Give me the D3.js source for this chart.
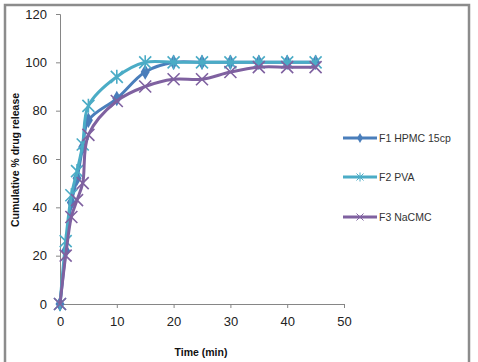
<!DOCTYPE html>
<html>
<head>
<script src="https://cdnjs.cloudflare.com/ajax/libs/d3/7.8.5/d3.min.js"></script>
<style>
  body { margin: 0; background: #fff; }
  text { font-family: "Liberation Sans", Arial, sans-serif; }
</style>
</head>
<body>
<script>
// dissolution data
const times = [0, 1, 2, 3, 4, 5, 10, 15, 20, 25, 30, 35, 40, 45];
const f1 = [0, 22, 42, 52, 65, 76, 85, 96, 100, 100, 100, 100, 100, 100];
const f2 = [0, 26, 45, 55, 66, 82, 94, 100, 100, 100, 100, 100, 100, 100];
const f3 = [0, 20, 36, 43, 50, 70, 84, 90, 93, 93, 96, 98, 98, 98];
const seriesNames = ["F1 HPMC 15cp", "F2 PVA", "F3 NaCMC"];
const xTicks = [0, 10, 20, 30, 40, 50];
const yTicks = [0, 20, 40, 60, 80, 100, 120];

const w = 478, h = 362;
const colors = ["#4a7ebb", "#4bacc6", "#7f61a0"];
const markers = ["diamond", "star", "x"];

const svg = d3.select("body").append("svg")
  .attr("width", w).attr("height", h);

// outer frame
svg.append("rect")
  .attr("x", 5).attr("y", 5)
  .attr("width", 464).attr("height", 370)
  .attr("fill", "none")
  .attr("stroke", "#8c8c8c")
  .attr("stroke-width", 2.5);

const xScale = d3.scaleLinear().domain([0, 50]).range([60, 344]);
const yScale = d3.scaleLinear().domain([0, 120]).range([304, 14]);

const xAxis = d3.axisBottom(xScale).tickValues(xTicks).tickSize(4).tickPadding(9);
const yAxis = d3.axisLeft(yScale).tickValues(yTicks).tickSize(4).tickPadding(9);

const gx = svg.append("g")
  .attr("transform", "translate(0," + yScale(0) + ")")
  .call(xAxis);
const gy = svg.append("g")
  .attr("transform", "translate(" + xScale(0) + ",0)")
  .call(yAxis);

[gx, gy].forEach(g => {
  g.select(".domain").attr("stroke", "#868686");
  g.selectAll(".tick line").attr("stroke", "#868686");
  g.selectAll(".tick text")
    .attr("fill", "#222")
    .style("font-size", "13px")
    .style("font-family", "'Liberation Sans', Arial, sans-serif");
});

// axis titles
svg.append("text")
  .attr("x", 201).attr("y", 356)
  .attr("text-anchor", "middle")
  .style("font-size", "10.5px").style("font-weight", "bold")
  .attr("fill", "#111")
  .text("Time (min)");

svg.append("text")
  .attr("transform", "translate(19,160) rotate(-90)")
  .attr("text-anchor", "middle")
  .style("font-size", "10.5px").style("font-weight", "bold")
  .attr("fill", "#111")
  .text("Cumulative % drug release");

const allSeries = [f1, f2, f3];

const line = d3.line()
  .x(d => xScale(d[0]))
  .y(d => yScale(d[1]))
  .curve(d3.curveCatmullRom.alpha(0.5));

function drawMarker(g, type, color, x, y) {
  if (type === "diamond") {
    g.append("path")
      .attr("d", d3.symbol(d3.symbolDiamond, 70)())
      .attr("transform", "translate(" + x + "," + y + ")")
      .attr("fill", color);
  } else if (type === "star") {
    const r = 6;
    const p = "M" + (x - r) + "," + (y - r) + "L" + (x + r) + "," + (y + r) +
      "M" + (x - r) + "," + (y + r) + "L" + (x + r) + "," + (y - r) +
      "M" + x + "," + (y - r - 1) + "L" + x + "," + (y + r + 1);
    g.append("path").attr("d", p).attr("stroke", color).attr("stroke-width", 1.6).attr("fill", "none");
  } else {
    const r = 6;
    const p = "M" + (x - r) + "," + (y - r) + "L" + (x + r) + "," + (y + r) +
      "M" + (x - r) + "," + (y + r) + "L" + (x + r) + "," + (y - r);
    g.append("path").attr("d", p).attr("stroke", color).attr("stroke-width", 1.6).attr("fill", "none");
  }
}

allSeries.forEach((vals, i) => {
  const pts = times.map((t, j) => [t, vals[j]]);
  const g = svg.append("g");
  g.append("path")
    .attr("d", line(pts))
    .attr("fill", "none")
    .attr("stroke", colors[i])
    .attr("stroke-width", 3);
  pts.forEach(p => drawMarker(g, markers[i], colors[i], xScale(p[0]), yScale(p[1])));
});

// legend
const legY = [138, 177, 217];
seriesNames.forEach((name, i) => {
  const g = svg.append("g");
  g.append("line")
    .attr("x1", 343).attr("x2", 377)
    .attr("y1", legY[i]).attr("y2", legY[i])
    .attr("stroke", colors[i]).attr("stroke-width", 3);
  const mg = g.append("g");
  if (markers[i] === "diamond") {
    mg.append("path")
      .attr("d", d3.symbol(d3.symbolDiamond, 30)())
      .attr("transform", "translate(360," + legY[i] + ")")
      .attr("fill", colors[i]);
  } else {
    const r = 3.5, x = 360, y = legY[i];
    let p = "M" + (x - r) + "," + (y - r) + "L" + (x + r) + "," + (y + r) +
      "M" + (x - r) + "," + (y + r) + "L" + (x + r) + "," + (y - r);
    if (markers[i] === "star") p += "M" + x + "," + (y - r - 1) + "L" + x + "," + (y + r + 1);
    mg.append("path").attr("d", p).attr("stroke", colors[i]).attr("stroke-width", 1).attr("fill", "none");
  }
  g.append("text")
    .attr("x", 379).attr("y", legY[i] + 4)
    .style("font-size", "10.5px")
    .attr("fill", "#333")
    .text(name);
});
</script>
</body>
</html>
